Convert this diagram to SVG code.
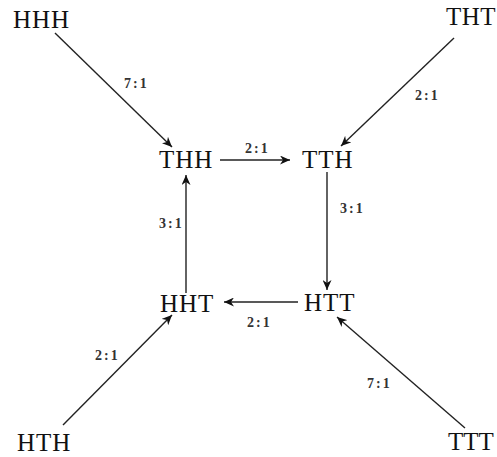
<svg xmlns="http://www.w3.org/2000/svg" width="497" height="457" viewBox="0 0 497 457">
<style>
.n{font-family:"Liberation Serif","Times New Roman",serif;font-size:25px;letter-spacing:1px;fill:#111}
.l{font-family:"Liberation Serif","Times New Roman",serif;font-size:14px;font-weight:bold;letter-spacing:2px;fill:#333}
.e{stroke:#222;stroke-width:1.4;fill:none;marker-end:url(#ah)}
</style>
<defs>
<marker id="ah" markerUnits="userSpaceOnUse" markerWidth="11" markerHeight="9" refX="10" refY="4.5" orient="auto">
<path d="M0,0 L10,4.5 L0,9 L3,4.5 z" fill="#111"/>
</marker>
</defs>
<rect width="497" height="457" fill="#fff"/>
<g id="connectors">
<line class="e" x1="55" y1="33" x2="172" y2="147"/>
<line class="e" x1="454" y1="38" x2="341" y2="146"/>
<line class="e" x1="220" y1="160" x2="290" y2="160"/>
<line class="e" x1="327" y1="172" x2="327" y2="290"/>
<line class="e" x1="298" y1="302" x2="224" y2="302"/>
<line class="e" x1="186" y1="293" x2="186" y2="175"/>
<line class="e" x1="63" y1="425" x2="172" y2="315"/>
<line class="e" x1="465" y1="428" x2="337" y2="317"/>
<text class="l" x="124" y="88">7:1</text>
<text class="l" x="415" y="100">2:1</text>
<text class="l" x="245" y="153">2:1</text>
<text class="l" x="340" y="213">3:1</text>
<text class="l" x="159" y="228">3:1</text>
<text class="l" x="247" y="327">2:1</text>
<text class="l" x="95" y="360">2:1</text>
<text class="l" x="367" y="388">7:1</text>
</g>
<g id="HHH"><text class="n" x="13" y="28">HHH</text></g>
<g id="THT"><text class="n" x="446" y="25" style="letter-spacing:0.5px">THT</text></g>
<g id="THH"><text class="n" x="159" y="168">THH</text></g>
<g id="TTH"><text class="n" x="302" y="168">TTH</text></g>
<g id="HHT"><text class="n" x="160" y="312">HHT</text></g>
<g id="HTT"><text class="n" x="304" y="311">HTT</text></g>
<g id="HTH"><text class="n" x="17" y="451">HTH</text></g>
<g id="TTT"><text class="n" x="448" y="450" style="letter-spacing:0">TTT</text></g>
</svg>
